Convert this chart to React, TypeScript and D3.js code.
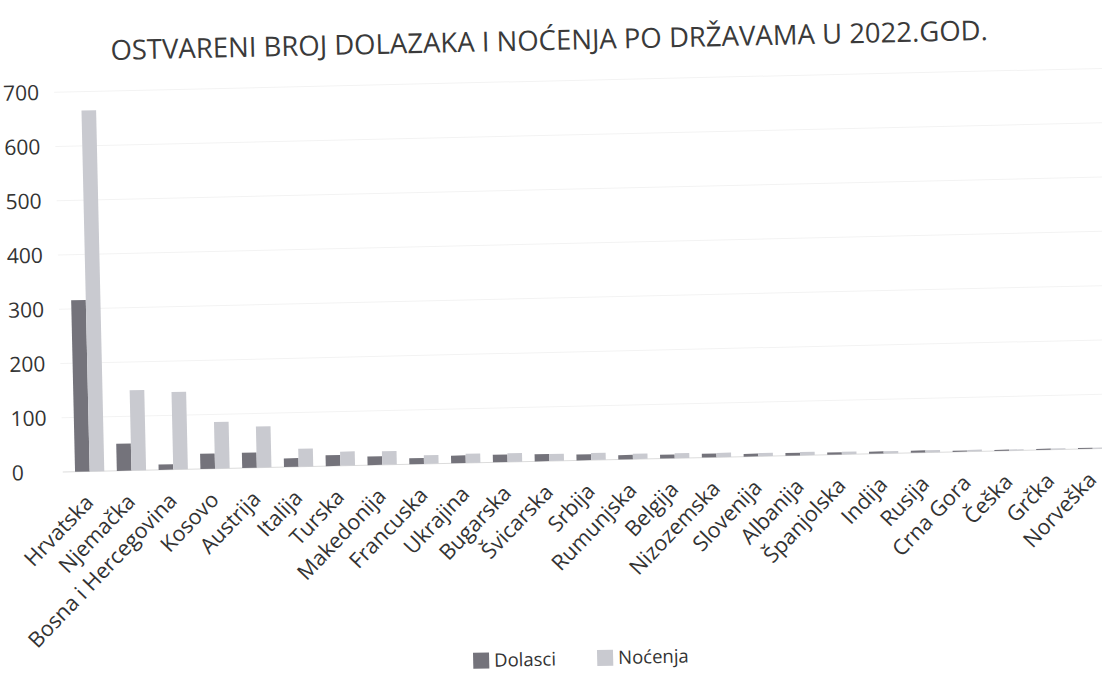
import React from "react";
import * as d3 from "d3";

const categories = [
  "Hrvatska", "Njemačka", "Bosna i Hercegovina", "Kosovo", "Austrija", "Italija",
  "Turska", "Makedonija", "Francuska", "Ukrajina", "Bugarska", "Švicarska", "Srbija",
  "Rumunjska", "Belgija", "Nizozemska", "Slovenija", "Albanija", "Španjolska",
  "Indija", "Rusija", "Crna Gora", "Češka", "Grčka", "Norveška",
];
const dolasci = [316, 50, 10, 28, 28, 16, 20, 16, 11, 14, 14, 13, 11, 8, 7, 7, 5, 5, 4, 4, 4, 2, 2, 2, 2];
const nocenja = [665, 148, 143, 86, 76, 33, 26, 25, 16, 17, 16, 13, 13, 10, 9, 8, 6, 6, 5, 4, 4, 3, 2, 2, 2];
const yTicks = [0, 100, 200, 300, 400, 500, 600, 700];
const seriesNames = ["Dolasci", "Noćenja"];
const colors = ["#74737b", "#c9cad0"];

const W = 1102;
const H = 688;
const font = "'Open Sans', sans-serif";

export default function App() {
  const x = d3.scaleBand<string>().domain(categories).range([66, 66 + 25 * 41.8]).paddingInner(0.3).paddingOuter(0.15);
  const xs = d3.scaleBand<string>().domain(seriesNames).range([0, x.bandwidth()]);
  const y = d3.scaleLinear().domain([0, 700]).range([461, 81]);

  return (
    <svg width={W} height={H} style={{ position: "absolute", left: 0, top: 0, background: "#fff" }}>
      {/* the scanned original is tilted slightly, so the whole chart is too */}
      <g transform={`rotate(-1.3, ${W / 2}, ${H / 2})`} fontFamily={font}>
        <text x={556} y={50} textAnchor="middle" fontSize={27.5} fill="#3a3a3a">
          OSTVARENI BROJ DOLAZAKA I NOĆENJA PO DRŽAVAMA U 2022.GOD.
        </text>

        {yTicks.map((t) => (
          <g key={t}>
            <line x1={60} x2={1110} y1={y(t)} y2={y(t)} stroke={t === 0 ? "#dcdcdc" : "#f3f3f3"} />
            <text x={9} y={y(t)} dy="0.35em" fontSize={21} fill="#333">{t}</text>
          </g>
        ))}

        {categories.map((c, i) => (
          <g key={c} transform={`translate(${x(c)},0)`}>
            {[dolasci[i], nocenja[i]].map((v, j) => (
              <rect
                key={j}
                x={xs(seriesNames[j])}
                y={y(v)}
                width={xs.bandwidth()}
                height={y(0) - y(v)}
                fill={colors[j]}
              />
            ))}
            <text
              transform={`translate(${x.bandwidth() / 2 - 1},${y(0) + 27}) rotate(-45)`}
              textAnchor="end"
              dy="0.35em"
              fontSize={21.5}
              fill="#333"
            >
              {c}
            </text>
          </g>
        ))}

        {seriesNames.map((s, j) => (
          <g key={s} transform={`translate(${j === 0 ? 466 : 590},${659})`}>
            <rect x={0} y={-8} width={16} height={16} fill={colors[j]} />
            <text x={21} y={0} dy="0.35em" fontSize={18.5} fill="#333">{s}</text>
          </g>
        ))}
      </g>
    </svg>
  );
}
